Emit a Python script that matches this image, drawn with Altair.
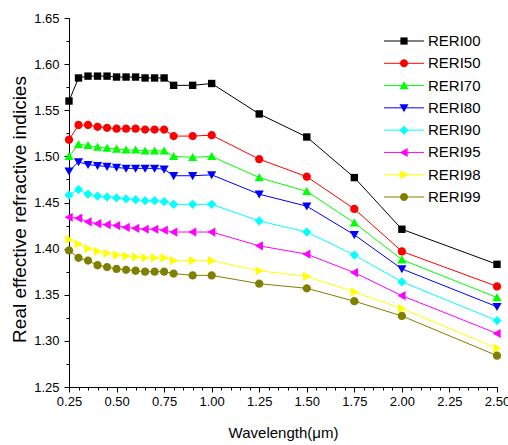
import altair as alt
import pandas as pd

wavelength = [0.25, 0.30, 0.35, 0.40, 0.45, 0.50, 0.55, 0.60, 0.65, 0.70, 0.75,
              0.80, 0.90, 1.00, 1.25, 1.50, 1.75, 2.00, 2.50]

series_names = ["RERI00", "RERI50", "RERI70", "RERI80", "RERI90", "RERI95", "RERI98", "RERI99"]

RERI00 = [1.560, 1.585, 1.587, 1.587, 1.587, 1.586, 1.586, 1.586, 1.585, 1.585, 1.585,
          1.577, 1.577, 1.579, 1.546, 1.521, 1.477, 1.421, 1.383]
RERI50 = [1.518, 1.534, 1.534, 1.532, 1.531, 1.530, 1.530, 1.530, 1.529, 1.529, 1.529,
          1.522, 1.522, 1.523, 1.497, 1.478, 1.443, 1.397, 1.359]
RERI70 = [1.500, 1.513, 1.512, 1.510, 1.509, 1.508, 1.507, 1.507, 1.506, 1.506, 1.506,
          1.500, 1.499, 1.500, 1.477, 1.462, 1.428, 1.388, 1.347]
RERI80 = [1.484, 1.494, 1.491, 1.490, 1.489, 1.488, 1.487, 1.487, 1.487, 1.487, 1.486,
          1.479, 1.479, 1.480, 1.459, 1.446, 1.415, 1.378, 1.337]
RERI90 = [1.458, 1.464, 1.459, 1.457, 1.456, 1.455, 1.454, 1.453, 1.452, 1.452, 1.451,
          1.448, 1.448, 1.448, 1.430, 1.418, 1.393, 1.364, 1.322]
RERI95 = [1.434, 1.433, 1.429, 1.427, 1.426, 1.425, 1.423, 1.422, 1.421, 1.421, 1.420,
          1.418, 1.418, 1.418, 1.403, 1.394, 1.374, 1.349, 1.308]
RERI98 = [1.410, 1.405, 1.400, 1.397, 1.395, 1.393, 1.392, 1.391, 1.390, 1.390, 1.390,
          1.387, 1.387, 1.387, 1.376, 1.370, 1.353, 1.335, 1.292]
RERI99 = [1.398, 1.390, 1.387, 1.382, 1.380, 1.378, 1.377, 1.376, 1.375, 1.375, 1.375,
          1.373, 1.371, 1.371, 1.362, 1.357, 1.343, 1.327, 1.284]

series_values = [RERI00, RERI50, RERI70, RERI80, RERI90, RERI95, RERI98, RERI99]

colors = ["#000000", "#ff0000", "#00ff00", "#0000ff", "#00ffff", "#ff00ff", "#ffff00", "#808000"]

x_ticks = [0.25, 0.50, 0.75, 1.00, 1.25, 1.50, 1.75, 2.00, 2.25, 2.50]
y_ticks = [1.25, 1.30, 1.35, 1.40, 1.45, 1.50, 1.55, 1.60, 1.65]
x_minor = [round(0.25 + 0.05 * i, 3) for i in range(46)]
y_minor = [round(1.25 + 0.025 * i, 3) for i in range(17)]

# marker outlines in the unit square
markers = [
    "M-0.8,-0.8H0.8V0.8H-0.8Z",
    "M-0.9,0A0.9,0.9,0,1,1,0.9,0A0.9,0.9,0,1,1,-0.9,0Z",
    "M-1,0.8L1,0.8L0,-0.95Z",
    "M-1,-0.8L1,-0.8L0,0.95Z",
    "M0,-1L1,0L0,1L-1,0Z",
    "M0.8,-1L0.8,1L-0.95,0Z",
    "M-0.8,-1L-0.8,1L0.95,0Z",
    "M-0.9,0A0.9,0.9,0,1,1,0.9,0A0.9,0.9,0,1,1,-0.9,0Z",
]

rows = []
for name, vals in zip(series_names, series_values):
    for xv, yv in zip(wavelength, vals):
        rows.append({"x": xv, "y": yv, "series": name})
df = pd.DataFrame(rows)
legend_df = pd.DataFrame({"series": series_names})

FONT = "Liberation Sans"
xs = alt.Scale(domain=[0.25, 2.5], nice=False, zero=False)
ys = alt.Scale(domain=[1.25, 1.65], nice=False, zero=False)
cs = alt.Scale(domain=series_names, range=colors)
ss = alt.Scale(domain=series_names, range=markers)
# legend rows: vertical placement of the legend entries inside the plot area
ly = alt.Scale(type="point", domain=series_names, range=[23, 179], padding=0)

major_x = alt.Axis(values=x_ticks, format=".2f", title="Wavelength(\u03bcm)", grid=False,
                   orient="bottom", tickSize=5, labelPadding=3, labelFontSize=13,
                   labelFont=FONT, labelColor="black", titleFont=FONT, titleFontSize=15,
                   titleFontWeight="normal", titleColor="black",
                   titleY=50, titleBaseline="alphabetic",
                   domainColor="black", tickColor="black", labelFlush=False)
major_y = alt.Axis(values=y_ticks, format=".2f", title="Real effective refractive indicies",
                   grid=False, orient="left", tickSize=5, labelPadding=5, labelFontSize=13,
                   labelFont=FONT, labelColor="black", titleFont=FONT, titleFontSize=19,
                   titleFontWeight="normal", titleColor="black",
                   titleX=-44, titleY=191, titleBaseline="alphabetic", titleAlign="center",
                   domainColor="black", tickColor="black", labelFlush=False)
minor_x = alt.Axis(values=x_minor, labels=False, domain=False, grid=False, title=None,
                   orient="bottom", tickSize=3, tickColor="black")
minor_y = alt.Axis(values=y_minor, labels=False, domain=False, grid=False, title=None,
                   orient="left", tickSize=3, tickColor="black")

lines = alt.Chart(df).mark_line(strokeWidth=1).encode(
    x=alt.X("x:Q", scale=xs, axis=major_x),
    y=alt.Y("y:Q", scale=ys, axis=major_y),
    color=alt.Color("series:N", scale=cs, legend=None),
)

points = alt.Chart(df).mark_point(filled=True, size=85, opacity=1, strokeWidth=0).encode(
    x=alt.X("x:Q", scale=xs, axis=minor_x),
    y=alt.Y("y:Q", scale=ys, axis=minor_y),
    color=alt.Color("series:N", scale=cs, legend=None),
    shape=alt.Shape("series:N", scale=ss, legend=None),
)

# legend built from the series list
legend_lines = alt.Chart(legend_df).mark_rule(strokeWidth=1).encode(
    x=alt.value(315), x2=alt.value(355),
    y=alt.Y("series:N", scale=ly, axis=None),
    color=alt.Color("series:N", scale=cs, legend=None),
)
legend_points = alt.Chart(legend_df).mark_point(filled=True, size=81, opacity=1,
                                                 strokeWidth=0).encode(
    x=alt.value(335),
    y=alt.Y("series:N", scale=ly, axis=None),
    color=alt.Color("series:N", scale=cs, legend=None),
    shape=alt.Shape("series:N", scale=ss, legend=None),
)
legend_text = alt.Chart(legend_df).mark_text(align="left", baseline="middle", font=FONT,
                                             fontSize=15, color="black").encode(
    x=alt.value(359),
    y=alt.Y("series:N", scale=ly, axis=None),
    text="series:N",
)

chart = alt.layer(lines, points, legend_lines, legend_points, legend_text).resolve_axis(
    x="independent", y="independent"
).resolve_scale(y="independent").properties(
    width=428, height=369,
    autosize=alt.AutoSizeParams(type="none"),
    padding={"left": 69, "top": 18, "right": 11, "bottom": 58},
    background="white",
).configure_view(stroke=None)

chart.save("out.html", embed_options={"renderer": "svg", "actions": False})
